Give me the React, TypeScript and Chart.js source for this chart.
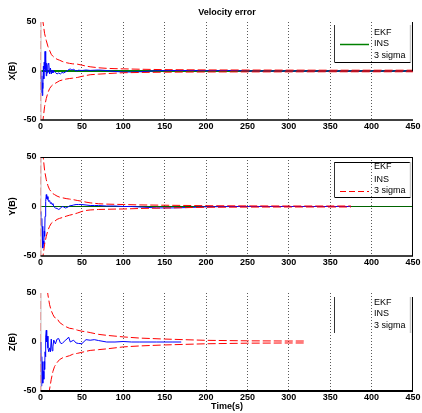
import React, { useEffect, useRef } from "react";
import { Chart, registerables } from "chart.js";

Chart.register(...registerables);

// ---------- text ----------
const chartTitle = "Velocity error";
const xAxisLabel = "Time(s)";
const yAxisLabels = ["X(B)", "Y(B)", "Z(B)"];
const legendLabels = ["EKF", "INS", "3 sigma"];

// ---------- ticks ----------
const xTicks = [0, 50, 100, 150, 200, 250, 300, 350, 400, 450];
const yTicks = [-50, 0, 50];

// ---------- INS (zero reference) ----------
const insTime = [0, 450];
const insValues = [0, 0];

// ---------- panel 1 ----------
const ekfTime1 = [0, 0.5, 1, 1.5, 2, 2.5, 3, 3.5, 4, 4.5, 5, 5.5, 6, 6.5, 7, 7.5, 8, 9, 10, 11, 12, 13, 14, 15, 16, 18, 20, 22, 24, 26, 28, 30, 32, 34, 36, 38, 40, 43, 46, 50, 55, 60, 65, 70, 80, 90, 100, 110, 120, 140, 160, 180, 200, 230, 250, 300, 350, 400, 450];
const ekf1 = [0, -8, -22, -5, -25, -12, -18, 5, -8, 9,
  2, 20, 0, 12, -5, 8, -2, 6, 8, -3,
  3, -3, 1, -2, 0, -1.5, -3, -2, -3, -1.5,
  -2, -1, 0, 1.5, 2, 1, 1.7, 0, 0.8, 0.5,
  1, 0.6, 0.8, 1, 0.5, -0.5, -1, -1, -0.8, 0.3,
  0.5, 0.5, 0.3, 0.5, 0, 0, 0, 0, 0];
const sigmaTime1 = [0, 0.5, 1, 3, 5, 7, 9, 11, 13, 15, 17, 20, 23, 27, 31, 35, 39, 45, 50, 55, 60, 70, 80, 90, 100, 120, 150, 200, 250, 300, 350, 400, 450];
const sigmaUp1 = [0, 100, 80, 50, 38, 31, 25, 21, 17, 15, 13.5, 12, 11, 9.5, 8.5, 7.8, 7.3, 6.9, 6, 5, 4.3, 3.3, 2.7, 2.4, 2.2, 1.8, 1.4, 1.1, 1, 0.9, 0.8, 0.8, 0.8];
const sigmaLow1 = [0, -100, -80, -50, -36, -28, -22, -18, -15.5, -14, -13, -11.5, -10, -9, -8.2, -7.7, -7.3, -6.5, -5.5, -4.6, -3.8, -3.2, -2.7, -2.2, -1.8, -1.5, -1.2, -1, -0.9, -0.9, -0.8, -0.8, -0.8];

// ---------- panel 2 ----------
const ekfTime2 = [0, 0.5, 1, 1.5, 2, 2.5, 3, 3.5, 4, 4.5, 5, 5.5, 6, 6.5, 7, 7.5, 8, 9, 10, 11, 12, 13, 14, 15, 16, 18, 20, 22, 24, 26, 28, 30, 32, 34, 36, 38, 40, 43, 46, 50, 55, 60, 65, 70, 80, 90, 100, 110, 120, 140, 160, 180, 200, 230, 250, 300, 350, 375];
const ekf2 = [-10, -5, -20, -12, -30, -20, -42, -35, -38, -25,
  -30, -10, -5, 5, 12, 8, 10, 7, 5, 6,
  3, 4, 2, 3, 0, -1.5, -2, -3, -2, 0,
  -0.5, -1.5, -1, 0, 1, 1, 1.5, 2, 2, 2,
  1.5, 1, 1, 1, 0.5, 0.5, 0, 0, -0.5, -1.4,
  -1.4, -1, -0.3, 0, 0, 0, 0, 0];
const sigmaTime2 = [0, 0.5, 1, 3, 5, 7, 9, 11, 13, 15, 17, 20, 23, 27, 31, 35, 39, 45, 50, 55, 60, 70, 80, 90, 100, 120, 150, 200, 250, 300, 350, 375];
const sigmaUp2 = [0, 100, 80, 52, 36, 27, 21, 17, 15, 13, 12, 10.5, 9.5, 8.7, 8, 7.5, 7, 6, 5.3, 4.4, 3.7, 2.8, 2.4, 2.2, 2, 1.6, 1.3, 0.8, 0.6, 0.5, 0.5, 0.5];
const sigmaLow2 = [0, -100, -80, -50, -38, -30, -24, -20, -17, -15.5, -15, -13, -12, -11, -9.8, -8.8, -8, -6.5, -5, -4, -3.5, -3, -2.8, -2.6, -2.5, -2, -1.5, -0.8, -0.6, -0.5, -0.5, -0.5];

// ---------- panel 3 ----------
const ekfTime3 = [0, 0.5, 1, 1.5, 2, 2.5, 3, 3.5, 4, 4.5, 5, 5.5, 6, 6.5, 7, 7.5, 8, 9, 10, 11, 12, 13, 14, 15, 16, 18, 20, 22, 24, 26, 28, 30, 32, 34, 36, 38, 40, 43, 46, 50, 55, 60, 65, 70, 80, 90, 100, 110, 120, 140, 160, 170];
const ekf3 = [0, -20, -45, -15, -35, -20, -42, -30, -38, -20,
  -28, -10, -15, 5, 12, 0, 6, -6, -10, -6,
  -10, 3, -9, -5, 2, -2, 3, 3.5, -1, -1.7,
  0, 1.8, 3, 5, 0, 1, 1.8, -1, -1.5, -1.7,
  2.4, 1.8, 2.4, 1.5, 0, 0, 0.5, 0, 0, 0,
  0, 0];
const sigmaTime3 = [0, 0.5, 1, 3, 5, 7, 9, 11, 13, 15, 17, 20, 23, 27, 31, 35, 39, 45, 50, 55, 60, 70, 80, 90, 100, 120, 150, 200, 250, 300, 320];
const sigmaUp3 = [0, 150, 130, 100, 80, 62, 48, 38, 32, 28, 25, 24, 20, 17.5, 15.5, 14, 13.5, 12, 11, 10.5, 9.6, 7.8, 6.8, 6, 5.2, 4, 3, 1.7, 1.2, 1, 1];
const sigmaLow3 = [0, -150, -130, -110, -90, -70, -58, -48, -38, -30, -25, -21, -18, -16, -15, -14, -12.5, -11.5, -10.5, -9.5, -8.6, -7.8, -7, -6, -5, -4, -3, -1.8, -1.2, -1, -1];

const FONT = "'Liberation Sans', Arial, Helvetica, sans-serif";
const SIGMA_DASH = [8, 3];

const pts = (xs: number[], ys: number[]) => xs.map((x, i) => ({ x, y: ys[i] }));

const decorPlugin = {
  id: "decor",
  afterDraw(chart: any, _args: any, o: any) {
    const { ctx, chartArea: a } = chart;
    const ys = chart.scales.y;
    ctx.save();
    const line = (x1: number, y1: number, x2: number, y2: number, color: string, w: number, dash: number[] = []) => {
      ctx.beginPath();
      ctx.setLineDash(dash);
      ctx.strokeStyle = color;
      ctx.lineWidth = w;
      ctx.moveTo(x1, y1);
      ctx.lineTo(x2, y2);
      ctx.stroke();
    };
    // axes / box
    line(a.left + 0.5, a.top, a.left + 0.5, a.bottom, "#c8c8c8", 1);
    line(a.left, a.bottom, a.right, a.bottom, "#000", o.bottomWidth);
    const rTop = o.rightFrom === "zero" ? a.top : o.rightFrom ?? a.top;
    const rBot = o.rightFrom === "zero" ? ys.getPixelForValue(0) : a.bottom;
    line(a.right - 0.5, rTop, a.right - 0.5, rBot, "#000", 1);
    if (o.topLine) line(a.left, a.top + 0.5, a.right, a.top + 0.5, "#000", 1);

    // legend
    const L = o.legend;
    const x1 = 334.5, x2 = 410.5;
    if (L.sides.includes("top")) line(x1, L.y1 + 0.5, x2, L.y1 + 0.5, "#000", 1);
    if (L.sides.includes("bottom")) line(x1, L.y2 + 0.5, x2, L.y2 + 0.5, "#000", 1);
    if (L.sides.includes("left")) line(x1, L.y1, x1, L.y2, "#333", 1);
    line(x2, L.y1, x2, L.y2, "#c8c8c8", 1.5);
    ctx.fillStyle = "#000";
    ctx.font = `9px ${FONT}`;
    ctx.textAlign = "left";
    ctx.textBaseline = "middle";
    legendLabels.forEach((t, i) => {
      ctx.fillText(t, 374, L.rows[i]);
      const s = L.samples[i];
      if (s) line(340, L.rows[i] + 0.5, 369, L.rows[i] + 0.5, s.color, s.width, s.dash || []);
    });

    // y label
    ctx.save();
    ctx.font = `bold 9px ${FONT}`;
    ctx.textAlign = "center";
    ctx.textBaseline = "middle";
    ctx.translate(13, (a.top + a.bottom) / 2);
    ctx.rotate(-Math.PI / 2);
    ctx.fillText(o.yLabel, 0, 0);
    ctx.restore();

    ctx.font = `bold 9px ${FONT}`;
    ctx.textAlign = "center";
    ctx.textBaseline = "middle";
    if (o.title) ctx.fillText(o.title, 227, o.titleY);
    if (o.xLabel) ctx.fillText(o.xLabel, 227, o.xLabelY);
    ctx.restore();
  },
};

type PanelSpec = {
  height: number;
  padTop: number;
  plotH: number;
  ekfT: number[];
  ekf: number[];
  sigT: number[];
  sigUp: number[];
  sigLow: number[];
  insColor: string;
  insWidth: number;
  showIns: boolean;
  decor: any;
};

function buildConfig(p: PanelSpec): any {
  const tickFont = { family: FONT, size: 9, weight: "bold" as const };
  const datasets: any[] = [
    { label: legendLabels[2], data: pts(p.sigT, p.sigUp), borderColor: "#ff0000", borderWidth: 1, borderDash: SIGMA_DASH, order: 1 },
    { label: legendLabels[2] + " lower", data: pts(p.sigT, p.sigLow), borderColor: "#ff0000", borderWidth: 1, borderDash: SIGMA_DASH, order: 1 },
    { label: legendLabels[0], data: pts(p.ekfT, p.ekf), borderColor: "#0000ff", borderWidth: 1, order: 2 },
  ];
  if (p.showIns) {
    datasets.push({ label: legendLabels[1], data: pts(insTime, insValues), borderColor: p.insColor, borderWidth: p.insWidth, order: 3 });
  }
  return {
    type: "line",
    data: { datasets },
    options: {
      responsive: false,
      animation: false,
      devicePixelRatio: 1,
      events: [],
      layout: { padding: { top: p.padTop, right: 8, left: 0, bottom: 0 } },
      elements: { point: { radius: 0 }, line: { tension: 0 } },
      plugins: { legend: { display: false }, tooltip: { enabled: false }, decor: p.decor },
      scales: {
        x: {
          type: "linear",
          min: xTicks[0],
          max: xTicks[xTicks.length - 1],
          afterBuildTicks: (s: any) => { s.ticks = xTicks.map((v) => ({ value: v })); },
          afterFit: (s: any) => { s.height = p.height - p.padTop - p.plotH; },
          ticks: { font: tickFont, color: "#000", padding: 1.5, maxRotation: 0, autoSkip: false },
          grid: {
            drawTicks: false,
            lineWidth: 1,
            borderDash: [1, 2],
            color: (c: any) => (c.tick && (c.tick.value === 0 || c.tick.value === 450) ? "rgba(0,0,0,0)" : "#5a5a5a"),
          },
          border: { display: false, dash: [1, 2] },
        },
        y: {
          type: "linear",
          min: yTicks[0],
          max: yTicks[yTicks.length - 1],
          afterBuildTicks: (s: any) => { s.ticks = yTicks.map((v) => ({ value: v })); },
          afterFit: (s: any) => { s.width = 40.5; },
          ticks: { font: tickFont, color: "#000", padding: 4 },
          grid: { display: false, drawTicks: false },
          border: { display: false },
        },
      },
    },
    plugins: [decorPlugin],
  };
}

const panels: { top: number; spec: PanelSpec }[] = [
  {
    top: 0,
    spec: {
      height: 140, padTop: 22, plotH: 98,
      ekfT: ekfTime1, ekf: ekf1, sigT: sigmaTime1, sigUp: sigmaUp1, sigLow: sigmaLow1,
      insColor: "#008000", insWidth: 2, showIns: true,
      decor: {
        yLabel: yAxisLabels[0], title: chartTitle, titleY: 13, bottomWidth: 1.5, rightFrom: "zero", topLine: false,
        legend: { y1: 25, y2: 62, sides: ["left", "bottom"], rows: [33, 44, 56], samples: [null, { color: "#008000", width: 1.5 }, null] },
      },
    },
  },
  {
    top: 140,
    spec: {
      height: 138, padTop: 17, plotH: 99,
      ekfT: ekfTime2, ekf: ekf2, sigT: sigmaTime2, sigUp: sigmaUp2, sigLow: sigmaLow2,
      insColor: "#006400", insWidth: 1, showIns: true,
      decor: {
        yLabel: yAxisLabels[1], bottomWidth: 1.5, topLine: true,
        legend: { y1: 22, y2: 57, sides: ["top", "left", "bottom"], rows: [27, 40, 51], samples: [null, null, { color: "#ff0000", width: 1, dash: [6, 3] }] },
      },
    },
  },
  {
    top: 278,
    spec: {
      height: 135, padTop: 15, plotH: 98,
      ekfT: ekfTime3, ekf: ekf3, sigT: sigmaTime3, sigUp: sigmaUp3, sigLow: sigmaLow3,
      insColor: "#008000", insWidth: 1, showIns: false,
      decor: {
        yLabel: yAxisLabels[2], xLabel: xAxisLabel, xLabelY: 128.5, bottomWidth: 2, rightFrom: 19, topLine: false,
        legend: { y1: 19, y2: 55, sides: ["left"], rows: [25, 36, 48], samples: [null, null, null] },
      },
    },
  },
];

function Panel({ top, spec }: { top: number; spec: PanelSpec }) {
  const ref = useRef<HTMLCanvasElement | null>(null);
  useEffect(() => {
    if (!ref.current) return;
    const chart = new Chart(ref.current, buildConfig(spec));
    return () => chart.destroy();
  }, []);
  return (
    <canvas
      ref={ref}
      width={422}
      height={spec.height}
      style={{ position: "absolute", left: 0, top, width: 422, height: spec.height, display: "block" }}
    />
  );
}

export default function App() {
  return (
    <div style={{ position: "fixed", left: 0, top: 0, width: 422, height: 413, background: "#fff" }}>
      {panels.map((p, i) => (
        <Panel key={i} top={p.top} spec={p.spec} />
      ))}
    </div>
  );
}
